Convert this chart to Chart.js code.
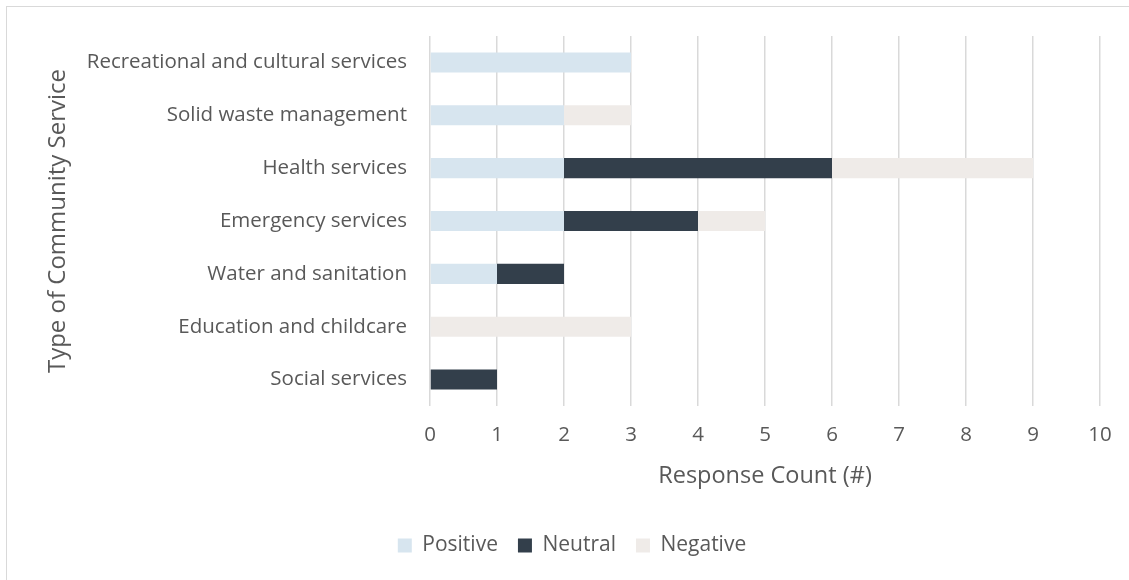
<!DOCTYPE html>
<html lang="en">

<head>
    <meta charset="UTF-8">
    <title>Community Service Responses</title>
    <style>
        html, body { margin: 0; padding: 0; background: #fff; }
        #wrap { position: relative; width: 1129px; height: 580px; overflow: hidden; }
        #frame { position: absolute; left: 6px; top: 6px; width: 1140px; height: 600px; border: 1px solid #d9d9d9; box-sizing: border-box; }
        canvas { position: absolute; left: 0; top: 0; }
    </style>
</head>

<body>
    <div id="wrap">
        <div id="frame"></div>
        <canvas id="myChart" width="1129" height="580"></canvas>
    </div>
    <script src="https://cdn.jsdelivr.net/npm/chart.js"></script>
    <script>
        const services = [
            'Recreational and cultural services',
            'Solid waste management',
            'Health services',
            'Emergency services',
            'Water and sanitation',
            'Education and childcare',
            'Social services'
        ];
        const positive = [3, 2, 2, 2, 1, 0, 0];
        const neutral = [0, 0, 4, 2, 1, 0, 1];
        const negative = [0, 1, 3, 1, 0, 3, 0];
        const countTicks = [0, 1, 2, 3, 4, 5, 6, 7, 8, 9, 10];

        const textColor = '#595959';
        const fontFamily = "'Open Sans', 'Noto Sans', sans-serif";

        const ctx = document.getElementById('myChart').getContext('2d');
        new Chart(ctx, {
            type: 'bar',
            data: {
                labels: services,
                datasets: [
                    { label: 'Positive', data: positive, backgroundColor: '#d7e5ef' },
                    { label: 'Neutral', data: neutral, backgroundColor: '#333f4b' },
                    { label: 'Negative', data: negative, backgroundColor: '#efebe8' }
                ]
            },
            options: {
                indexAxis: 'y',
                responsive: false,
                animation: false,
                datasets: {
                    bar: { categoryPercentage: 1, barPercentage: 0.38 }
                },
                layout: { padding: { left: 44, right: 29, top: 36, bottom: 14 } },
                plugins: {
                    tooltip: { enabled: false },
                    legend: {
                        position: 'bottom',
                        labels: {
                            boxWidth: 14,
                            boxHeight: 14,
                            padding: 20,
                            color: textColor,
                            font: { family: fontFamily, size: 21 }
                        }
                    }
                },
                scales: {
                    x: {
                        stacked: true,
                        min: 0,
                        max: 10,
                        afterBuildTicks: (scale) => {
                            scale.ticks = countTicks.map(v => ({ value: v }));
                        },
                        afterFit: (scale) => { scale.height = 109; },
                        grid: { color: '#d9d9d9', lineWidth: 1.5, drawTicks: false },
                        border: { display: false },
                        ticks: {
                            padding: 17,
                            color: textColor,
                            font: { family: fontFamily, size: 20.5 }
                        },
                        title: {
                            display: true,
                            text: 'Response Count (#)',
                            color: textColor,
                            padding: { top: 0, bottom: 25 },
                            font: { family: fontFamily, size: 23.5 }
                        }
                    },
                    y: {
                        stacked: true,
                        afterFit: (scale) => { scale.width = 386; },
                        grid: { display: false },
                        border: { display: false },
                        ticks: {
                            padding: 15,
                            color: textColor,
                            font: { family: fontFamily, size: 20.5 }
                        },
                        title: {
                            display: true,
                            text: 'Type of Community Service',
                            color: textColor,
                            padding: 0,
                            font: { family: fontFamily, size: 24 }
                        }
                    }
                }
            }
        });
    </script>
</body>

</html>
